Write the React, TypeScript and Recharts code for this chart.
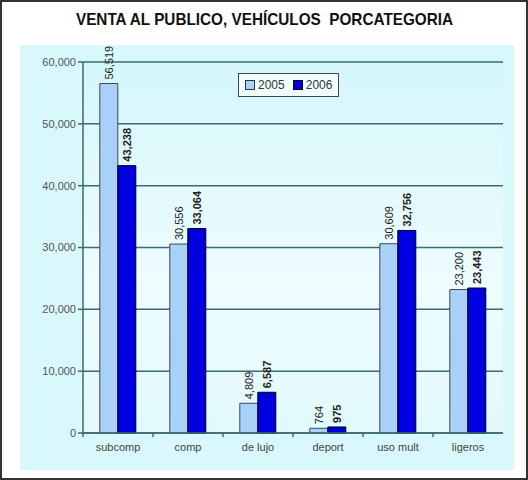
import React from 'react';
import { BarChart, Bar, XAxis, YAxis, CartesianGrid, LabelList } from 'recharts';

const categories = ['subcomp', 'comp', 'de lujo', 'deport', 'uso mult', 'ligeros'];
const ventas2005 = [56519, 30556, 4809, 764, 30609, 23200];
const ventas2006 = [43238, 33064, 6587, 975, 32756, 23443];
const yTicks = [0, 10000, 20000, 30000, 40000, 50000, 60000];

const data = categories.map((cat, i) => ({
  cat,
  y2005: ventas2005[i],
  y2006: ventas2006[i],
}));

const fmt = (v: number) => v.toLocaleString('en-US');

const FONT = '"Liberation Sans", Arial, sans-serif';
const GRID = '#3d6b6b';

const makeLabel = (bold: boolean) => (props: any) => {
  const { x, y, width, value } = props;
  const cx = x + width / 2;
  const cy = y - 4;
  return (
    <text
      x={cx}
      y={cy}
      transform={`rotate(-90, ${cx}, ${cy})`}
      textAnchor="start"
      dominantBaseline="central"
      fontSize={11}
      fontWeight={bold ? 'bold' : 'normal'}
      fontFamily={FONT}
      fill="#222"
    >
      {fmt(value)}
    </text>
  );
};

const CatTick = (props: any) => {
  const { x, y, payload } = props;
  return (
    <g>
      <line x1={x - 35} y1={y - 8} x2={x - 35} y2={y - 4} stroke={GRID} strokeWidth={1.5} />
      <text x={x} y={y + 10} textAnchor="middle" fontSize={11} fontFamily={FONT} fill="#444">
        {payload.value}
      </text>
    </g>
  );
};

const LegendBox = () => (
  <div
    style={{
      position: 'absolute',
      left: 236,
      top: 71,
      border: '1.5px solid #445',
      background: '#f2fdff',
      display: 'flex',
      alignItems: 'center',
      gap: 8,
      padding: '4px 6px',
      fontFamily: FONT,
      fontSize: 12,
      color: '#333',
    }}
  >
    <span style={{ display: 'flex', alignItems: 'center', gap: 3 }}>
      <span style={{ width: 8, height: 8, background: '#a8d0f8', border: '1px solid #334' }} />
      2005
    </span>
    <span style={{ display: 'flex', alignItems: 'center', gap: 3 }}>
      <span style={{ width: 8, height: 8, background: '#0000e0', border: '1px solid #002' }} />
      2006
    </span>
  </div>
);

export default function App() {
  return (
    <div
      style={{
        position: 'absolute',
        left: 0,
        top: 0,
        width: 528,
        height: 480,
        boxSizing: 'border-box',
        border: '2px solid #333',
        background: '#fff',
        overflow: 'hidden',
      }}
    >
      <div
        style={{
          position: 'absolute',
          left: 18,
          top: 43,
          width: 494,
          height: 425,
          background: '#d8f8fb',
        }}
      />
      <div
        style={{
          position: 'absolute',
          left: 0,
          top: 8,
          width: 526,
          textAlign: 'center',
        }}
      >
        <span
          style={{
            display: 'inline-block',
            transform: 'scaleX(0.9)',
            fontFamily: FONT,
            fontWeight: 'bold',
            fontSize: 17,
            color: '#111',
          }}
        >
          VENTA AL PUBLICO, VEHÍCULOS&nbsp; PORCATEGORIA
        </span>
      </div>
      <div style={{ position: 'absolute', left: -2, top: -2 }}>
        <BarChart
          width={528}
          height={480}
          data={data}
          margin={{ top: 62, right: 25, left: 0, bottom: 17 }}
          barGap={0}
          barCategoryGap="24%"
        >
          <defs>
            <linearGradient id="plotBg" x1="0" y1="0" x2="0" y2="1">
              <stop offset="0%" stopColor="#d4f7fb" />
              <stop offset="60%" stopColor="#eefcfe" />
              <stop offset="100%" stopColor="#e2fafc" />
            </linearGradient>
          </defs>
          <CartesianGrid
            vertical={false}
            stroke={GRID}
            strokeWidth={1.5}
            fill="url(#plotBg)"
            fillOpacity={1}
          />
          <XAxis
            dataKey="cat"
            height={30}
            axisLine={{ stroke: GRID, strokeWidth: 1.5 }}
            tickLine={false}
            tick={<CatTick />}
            interval={0}
          />
          <YAxis
            width={83}
            domain={[0, 60000]}
            ticks={yTicks}
            tickFormatter={fmt}
            axisLine={{ stroke: GRID, strokeWidth: 1.5 }}
            tickLine={{ stroke: GRID, strokeWidth: 1.5 }}
            tickSize={5}
            tick={{ fontSize: 11, fill: '#555', fontFamily: FONT }}
          />
          <YAxis
            yAxisId="right"
            orientation="right"
            width={0}
            domain={[0, 60000]}
            tick={false}
            tickLine={false}
            axisLine={{ stroke: '#7a9a9c', strokeWidth: 1 }}
          />
          <Bar dataKey="y2005" name="2005" fill="#a8d0f8" stroke="#445" strokeWidth={1} isAnimationActive={false}>
            <LabelList dataKey="y2005" content={makeLabel(false)} />
          </Bar>
          <Bar dataKey="y2006" name="2006" fill="#0000e0" stroke="#001" strokeWidth={1} isAnimationActive={false}>
            <LabelList dataKey="y2006" content={makeLabel(true)} />
          </Bar>
        </BarChart>
      </div>
      <LegendBox />
    </div>
  );
}
